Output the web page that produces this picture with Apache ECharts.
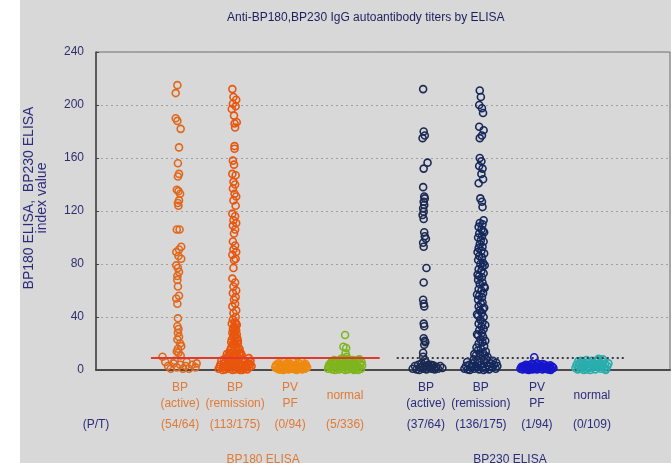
<!DOCTYPE html>
<html><head><meta charset="utf-8">
<script src="https://cdn.jsdelivr.net/npm/echarts@6/dist/echarts.min.js"></script>
<style>
html,body{margin:0;padding:0;background:#fff}
#c{width:671px;height:463px;background:linear-gradient(to right,#ffffff 0,#ffffff 20px,#d8d8d8 20px,#d8d8d8 100%)}
</style>
</head><body><div id="c"></div>
<script>
// ---------------- data ----------------
const titleText = 'Anti-BP180,BP230 IgG autoantibody titers by ELISA';
const yTicks = [0, 40, 80, 120, 160, 200, 240];
const groupNames = ['BP\n(active)', 'BP\n(remission)', 'PV\nPF', 'normal', 'BP\n(active)', 'BP\n(remission)', 'PV\nPF', 'normal'];
const groupCounts = ['(54/64)', '(113/175)', '(0/94)', '(5/336)', '(37/64)', '(136/175)', '(1/94)', '(0/109)'];
const assayNames = ['BP180 ELISA', 'BP230 ELISA'];
const ptLabel = '(P/T)';
const cutoffBP180 = 9;
const cutoffBP230 = 9;

// each point: [horizontal jitter within its column (category units), index value]
const bp180Active = [
[-0.05,215],[-0.08,209],[-0.08,190],[-0.05,188],[0.01,182],[-0.02,168],[-0.04,156],[-0.02,148],[-0.04,146],
[-0.06,136],[-0.03,135],[0.0,133],[-0.02,128],[-0.04,126],[-0.03,124],[-0.06,106],[-0.01,106],
[0.02,93],[-0.02,91],[-0.07,89],[-0.03,86],[0.02,84],[-0.07,79],[-0.04,77],[-0.02,74],[-0.05,71],[-0.05,68],[-0.04,63],
[-0.02,56],[-0.07,54],[-0.05,50],[-0.04,39],[-0.05,33],[-0.03,31],[-0.04,28],[-0.02,25],[-0.05,23],
[0.0,20],[0.02,18],[-0.04,16],[-0.06,14],[-0.03,13],[0.01,11],
[-0.32,10],[-0.27,6],[-0.22,3],[-0.17,1],[-0.12,5],[-0.06,2],[0.0,4],[0.05,1],[0.1,3],[0.16,1],[0.22,4],[0.28,2],[0.3,5],[-0.1,7],[0.12,6]
];
const bp180Remission = [
[-0.05,212],[-0.03,206],[0.02,204],[-0.04,201],[0.01,199],[-0.06,197],[-0.02,192],[0.03,187],[-0.01,186],[0.0,183],
[-0.01,169],[-0.01,167],[-0.04,158],[-0.02,155],[-0.05,148],[0.01,147],[-0.03,142],[0.0,140],[-0.04,137],[-0.01,133],[0.02,131],[-0.03,128],[0.01,124],
[-0.05,118],[0.0,116],[-0.03,113],[0.02,111],[-0.04,109],[0.0,106],[-0.02,103],
[-0.04,97],[0.0,94],[-0.03,91],[0.02,89],[-0.05,87],[0.01,84],[-0.02,83],[-0.03,77],
[-0.05,69],[0.0,66],[-0.03,63],[0.02,60],[-0.04,58],[0.01,55],[-0.02,53],[0.0,50],[-0.05,48],[0.02,45],[-0.03,43],[0.01,40],
[-0.04,38],[0.0,36],[-0.06,35],[0.03,34],[-0.02,33],[0.0,32],[-0.04,31],[0.02,30],[-0.01,29],[-0.05,28],[0.03,27],[0.0,26],
[-0.03,25],[0.04,24],[-0.06,23],[0.01,22],[-0.02,21],[0.05,20],[-0.04,19],[0.02,18],[-0.07,17],[0.0,16],[0.06,15],[-0.03,14],
[0.03,13],[-0.08,12],[0.07,12],[-0.01,11],[0.04,10.5],[-0.05,10.5],[-0.12,11],[0.1,11],
[0.02,35],[-0.02,27],[0.05,22],[-0.07,21],[0.08,16],[-0.09,15],[0.1,13],[-0.1,13],[0.12,11.5],[-0.15,12],
[-0.3,1],[-0.27,4],[-0.25,7],[-0.22,2],[-0.2,5],[-0.18,0.5],[-0.15,3],[-0.13,6],[-0.1,1],[-0.08,8],[-0.06,4],[-0.04,2],
[-0.02,6],[0.0,0.5],[0.02,3],[0.04,7],[0.06,1],[0.08,5],[0.1,2],[0.12,8],[0.14,4],[0.16,1],[0.18,6],[0.2,3],[0.22,0.5],
[0.24,5],[0.26,2],[0.28,7],[0.3,3],[-0.28,2.5],[-0.23,0],[-0.16,9],[-0.11,3.5],[-0.05,0],[0.01,9],[0.07,3],[0.13,0],
[0.19,2],[0.25,9],[-0.2,8],[0.27,4.5],[-0.01,5],[0.09,0],[-0.19,3],[0.15,7],[-0.12,10]
];
const bp180PVPF = [
[-0.27,2],[-0.25,4],[-0.23,1],[-0.21,5],[-0.19,2.5],[-0.17,0.5],[-0.15,4],[-0.13,2],[-0.11,6],[-0.09,1],[-0.07,3.5],[-0.05,5],
[-0.03,0.5],[-0.01,2.5],[0.01,4.5],[0.03,1],[0.05,6],[0.07,3],[0.09,0.5],[0.11,4],[0.13,2],[0.15,5.5],[0.17,1],[0.19,3],
[0.21,6.5],[0.23,2],[0.25,4],[0.27,1],[0.29,3],[0.31,2],[-0.26,3],[-0.2,0.5],[-0.14,1],[-0.08,4.5],[-0.02,1.5],[0.04,3],
[0.1,1.5],[0.16,3],[0.22,0.5],[0.28,4.5],[-0.18,3.5],[-0.06,2],[0.06,1.5],[0.18,4.5],[0.0,3.5],[-0.12,0],[0.12,0],[0.24,2.5]
];
const bp180Normal = [
[-0.31,1],[-0.29,4],[-0.27,2],[-0.25,6],[-0.23,0.5],[-0.21,3],[-0.19,5],[-0.17,1.5],[-0.15,7],[-0.13,3.5],[-0.11,0.5],[-0.09,5],
[-0.07,2],[-0.05,6.5],[-0.03,1],[-0.01,4],[0.01,2.5],[0.03,7],[0.05,0.5],[0.07,4.5],[0.09,2],[0.11,6],[0.13,1],[0.15,3.5],
[0.17,5.5],[0.19,0.5],[0.21,3],[0.23,7.5],[0.25,2],[0.27,5],[0.29,1],[0.31,3.5],[-0.3,2.5],[-0.24,4],[-0.18,0],[-0.12,2],
[-0.06,4],[0.0,0],[0.06,3],[0.12,4],[0.18,2],[0.24,0],[0.3,6],[-0.2,7.5],[-0.08,8],[0.02,8.5],[0.14,7.5],[0.26,8],[-0.26,5],
[0.1,1.5],[-0.14,5],[0.2,5],[-0.02,3],[0.08,6.5],[0.16,0],
[0.0,26.4],[-0.03,17.6],[0.02,16.6],[0.01,12.6],[0.03,10],[-0.04,9],[0.05,8]
];
const bp230Active = [
[-0.05,212],[-0.04,180],[-0.02,177],[-0.06,175],[0.03,156.5],[-0.04,152],[-0.05,138],[-0.03,131],[-0.02,129.5],[-0.04,127],
[-0.03,124.5],[-0.05,122],[-0.04,119.5],[-0.06,117],[-0.04,114],[-0.03,104],[-0.02,101],[0.0,99],[-0.05,96],[-0.04,93],
[0.01,77],[-0.04,66],[-0.05,53],[-0.04,50],[-0.03,48],[-0.04,35],[-0.03,33],[-0.04,24],[-0.02,22],[-0.01,21],[-0.03,19],
[-0.05,13],[-0.05,10],
[-0.24,1],[-0.2,3],[-0.17,0.5],[-0.14,4],[-0.11,2],[-0.08,5],[-0.05,1],[-0.02,3],[0.01,0.5],[0.04,4],[0.07,2],[0.1,1],
[0.13,3.5],[0.16,0.5],[0.19,2.5],[0.22,1],[0.26,3],[0.3,1.5],[-0.12,0],[0.0,6],[-0.02,7.5],[0.03,2],[0.09,4],[-0.06,3],[0.15,2]
];
const bp230Remission = [
[-0.02,211],[0.0,206],[-0.03,200],[0.02,197.5],[0.04,194],[-0.03,183.6],[0.05,181],[0.02,177],[-0.02,175],
[-0.02,160],[0.01,157.5],[-0.03,154],[0.03,152],[0.01,148],[0.04,144],[-0.04,141],[-0.01,129.5],[0.02,127],[0.03,123],
[0.05,113],[-0.02,111],[0.03,110],[-0.04,108],[0.01,106],[0.04,105],[-0.03,103],[0.02,101],[-0.05,100],[0.0,98],[0.05,97],
[-0.02,95],[0.03,93],[-0.04,92],[0.01,90],[0.06,88],[-0.03,86],[0.02,85],[-0.05,83],[0.04,81],[-0.01,80],[0.03,78],[-0.04,76],
[0.01,75],[0.05,73],[-0.03,71],[0.02,70],[-0.05,68],[0.03,66],[-0.02,65],[0.06,63],[-0.04,61],[0.01,60],[0.04,58],[-0.03,56],
[0.02,55],[-0.05,53],[0.03,51],[0.0,50],[-0.04,48],[0.04,46],[-0.02,45],[0.02,43],[-0.05,41],[0.05,40],[-0.01,38],[0.03,36],
[-0.04,35],[0.01,33],[0.05,31],[-0.03,30],[0.02,28],[-0.05,26],[0.04,25],[-0.01,23],[0.03,21],[-0.04,20],[0.06,18],[0.0,16],
[-0.05,15],[0.04,13],[-0.02,12],[0.07,11],
[0.06,104],[-0.06,89],[0.07,79],[-0.06,72],[0.07,62],[-0.07,57],[0.06,47],[-0.07,42],[0.08,34],[-0.07,27],[0.08,22],
[-0.08,17],[0.09,14],[-0.09,11],[0.12,10],[-0.12,12],
[-0.3,1],[-0.27,3],[-0.24,0.5],[-0.21,4],[-0.18,2],[-0.15,5],[-0.12,1],[-0.09,3],[-0.06,6],[-0.03,0.5],[0.0,4],[0.03,2],
[0.06,7],[0.09,1],[0.12,3.5],[0.15,0.5],[0.18,5],[0.21,2],[0.24,4],[0.27,1],[0.3,3],[-0.25,6],[-0.13,8],[0.1,8],[0.22,7],
[-0.2,0],[0.05,0],[0.16,2.5],[-0.07,2],[0.01,8.5],[-0.02,6],[0.28,5.5],[-0.16,3]
];
const bp230PVPF = [
[-0.3,1],[-0.28,2.5],[-0.26,0.5],[-0.24,3],[-0.22,1.5],[-0.2,4],[-0.18,0.5],[-0.16,2],[-0.14,3.5],[-0.12,1],[-0.1,2.5],
[-0.08,0.5],[-0.06,4],[-0.04,1.5],[-0.02,3],[0.0,0.5],[0.02,2],[0.04,4],[0.06,1],[0.08,3],[0.1,0.5],[0.12,2.5],[0.14,4],
[0.16,1],[0.18,3],[0.2,0.5],[0.22,2],[0.24,3.5],[0.26,1],[0.28,2.5],[0.3,1.5],[-0.25,2],[-0.15,0],[-0.05,2],[0.05,2.5],
[0.15,2],[0.25,0],[-0.2,2.5],[0.1,4.5],[-0.1,4.5],[0.0,5],[-0.05,9.6]
];
const bp230Normal = [
[-0.3,1.5],[-0.28,4],[-0.26,0.5],[-0.24,3],[-0.22,5],[-0.2,1],[-0.18,3.5],[-0.16,6],[-0.14,2],[-0.12,4.5],[-0.1,0.5],
[-0.08,3],[-0.06,6],[-0.04,1.5],[-0.02,4],[0.0,7],[0.02,2.5],[0.04,5],[0.06,0.5],[0.08,3.5],[0.1,7.5],[0.12,2],[0.14,5],
[0.16,1],[0.18,3.5],[0.2,6],[0.22,2],[0.24,4.5],[0.26,1],[0.28,3],[0.3,5],[-0.25,6.5],[-0.15,0],[-0.05,2.5],[0.05,3],
[0.15,2.5],[0.25,0],[-0.1,7.5],[0.12,8.5],[0.2,8],[-0.2,7],[0.07,6.5],[-0.03,0]
];

// ---------------- layout / style ----------------
const seriesData = [bp180Active, bp180Remission, bp180PVPF, bp180Normal, bp230Active, bp230Remission, bp230PVPF, bp230Normal];
const columnPos = [1.53, 2.53, 3.53, 4.53, 6.0, 7.0, 8.02, 9.02];
const columnColor = ['#e0681c', '#e8560e', '#ee8a10', '#7fb51f', '#1b2a52', '#15285c', '#1616cc', '#2aadad'];
const assayPos = [3.04, 7.53];
const ORANGE = '#de7b38', NAVY = '#2c2c7c';
const font = 'Liberation Sans, Arial, sans-serif';

function findIdx(arr, v){ for (let i=0;i<arr.length;i++){ if (Math.abs(arr[i]-v)<1e-6) return i; } return -1; }

const chart = echarts.init(document.getElementById('c'), null, {renderer:'canvas'});

const scatterSeries = seriesData.map((d, k) => ({
  type:'scatter', xAxisIndex:0, yAxisIndex:0, silent:true,
  data: d.map(p => [columnPos[k] + p[0], p[1]]),
  symbol:'circle', symbolSize:7,
  itemStyle:{color:'rgba(0,0,0,0)', borderColor:columnColor[k], borderWidth:1.6, opacity:1},
  z: 3
}));

const richStyles = {
  o:{color:ORANGE, fontSize:12, lineHeight:16, fontFamily:font, align:'center'},
  n:{color:NAVY, fontSize:12, lineHeight:16, fontFamily:font, align:'center'},
  o2:{color:ORANGE, fontSize:12, lineHeight:32, fontFamily:font, align:'center'},
  n2:{color:NAVY, fontSize:12, lineHeight:32, fontFamily:font, align:'center'}
};

const xBase = {type:'value', min:0, max:10.44, position:'bottom', gridIndex:0,
  axisTick:{show:false}, splitLine:{show:false}};

chart.setOption({
  animation:false,
  textStyle:{fontFamily:font},
  title:{text:titleText, left:222, top:7,
    textStyle:{fontSize:12, fontWeight:'normal', color:'#1e1e5e', fontFamily:font}},
  grid:{left:96, top:52, right:1, bottom:93, show:true, borderColor:'#707070', borderWidth:1,
    backgroundColor:'transparent', containLabel:false, outerBoundsMode:'none'},
  xAxis:[
    Object.assign({}, xBase, {
      axisLine:{show:true, onZero:false, lineStyle:{color:'#4a4a4a', width:2}},
      axisLabel:{customValues:columnPos, margin:10, interval:0,
        formatter:(v)=>{ const i=findIdx(columnPos,v); if(i<0) return '';
          const c = i<4 ? 'o':'n';
          const parts = groupNames[i].split('\n');
          if (parts.length===1) return '{'+c+'2|'+parts[0]+'}';
          return parts.map(s=>'{'+c+'|'+s+'}').join('\n'); },
        rich:richStyles}
    }),
    Object.assign({}, xBase, {
      axisLine:{show:false},
      axisLabel:{customValues:[0].concat(columnPos), margin:47, showMinLabel:true,
        formatter:(v)=>{ if (Math.abs(v)<1e-6) return '{n|'+ptLabel+'}';
          const i=findIdx(columnPos,v); if(i<0) return '';
          return '{'+(i<4?'o':'n')+'|'+groupCounts[i]+'}'; },
        rich:richStyles}
    }),
    Object.assign({}, xBase, {
      axisLine:{show:false},
      axisLabel:{customValues:assayPos, margin:82,
        formatter:(v)=>{ const i=findIdx(assayPos,v); if(i<0) return '';
          return '{'+(i===0?'o':'n')+'|'+assayNames[i]+'}'; },
        rich:richStyles}
    })
  ],
  yAxis:{type:'value', min:yTicks[0], max:yTicks[yTicks.length-1], interval:40,
    axisLine:{show:true, lineStyle:{color:'#444', width:1.5}},
    axisTick:{show:true, inside:true, length:3, lineStyle:{color:'#444'}},
    axisLabel:{fontSize:12, color:'#2e2e6e', margin:12, fontFamily:font},
    splitLine:{show:true, lineStyle:{color:'#a0a0a0', type:[2,3], width:1}}},
  graphic:[{
    type:'text', x:36, y:198, rotation:Math.PI/2,
    style:{text:'BP180 ELISA,  BP230 ELISA\nindex value', fill:NAVY, font:'14px '+font,
      textAlign:'center', textVerticalAlign:'middle', lineHeight:13}
  }],
  series: scatterSeries.concat([
    {type:'line', silent:true, symbol:'none', data:[[1.0,cutoffBP180],[5.16,cutoffBP180]],
      lineStyle:{color:'#e03a2c', width:2}, z:4},
    {type:'line', silent:true, symbol:'none', data:[[5.47,cutoffBP230],[9.65,cutoffBP230]],
      lineStyle:{color:'#3a3a4a', width:2, type:[2,3]}, z:4}
  ])
});
</script>
</body></html>
